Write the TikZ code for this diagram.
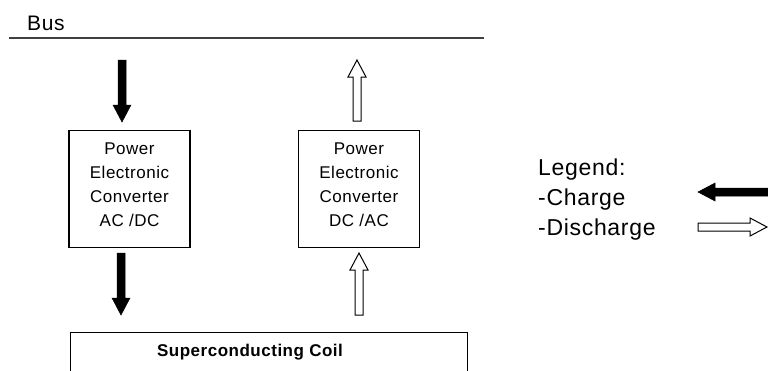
\documentclass[tikz,border=0pt]{standalone}
\usepackage{fontspec}
\setmainfont{Liberation Sans}
\newfontfamily\loosefont[LetterSpace=3]{Liberation Sans}
\begin{document}
\begin{tikzpicture}[x=1pt,y=-1pt,
  convbox/.style={draw, line width=1.3pt, minimum width=121pt, minimum height=117pt, inner sep=0pt},
  convtext/.style={align=center, font=\loosefont\fontsize{17}{24}\selectfont, inner sep=0pt},
  legtext/.style={anchor=base west, font=\loosefont\fontsize{23}{27}\selectfont, inner sep=0pt},
  solidarrow/.style={fill=black, draw=black, line width=0.5pt},
  hollowarrow/.style={fill=white, draw=black, line width=1pt},
  pics/barrow/.style={code={\path[pic actions] (0,-4) -- ({#1-17},-4) -- ({#1-17},-9) -- (#1,0) -- ({#1-17},9) -- ({#1-17},4) -- (0,4) -- cycle;}}
]
\useasboundingbox (0,0) rectangle (768,370);
\clip (0,0) rectangle (768,370);

% bus
\coordinate (busL) at (9,38);
\coordinate (busR) at (484,38);
\draw[line width=1.5pt, black!75] (busL) -- (busR);
\node[anchor=base west, inner sep=0pt, font=\loosefont\fontsize{21}{24}\selectfont] (bus) at (27,30) {Bus};

% converter boxes
\node[convbox] (conv1) at (129.5,189) {};
\node[convtext] (conv1t) at (129.5,185) {Power\\Electronic\\Converter\\AC /DC};
\node[convbox] (conv2) at (359,189) {};
\node[convtext] (conv2t) at (359,185) {Power\\Electronic\\Converter\\DC /AC};

% coil
\node[draw, line width=1.3pt, minimum width=397pt, minimum height=70pt, anchor=north west, inner sep=0pt] (coil) at (70,332) {};
\node[anchor=base, font=\loosefont\bfseries\fontsize{17}{20}\selectfont, inner sep=0pt] (coilt) at (250,356) {Superconducting Coil};

% arrows
\pic[solidarrow, rotate=-90] (a1) at (122,60) {barrow=62};
\pic[hollowarrow, rotate=90] (a2) at (357,121) {barrow=61};
\pic[solidarrow, rotate=-90] (a3) at (121,253) {barrow=62};
\pic[hollowarrow, rotate=90] (a4) at (359,315) {barrow=62};

% legend
\node[legtext] (leg) at (538,175) {Legend:};
\node[legtext] (legc) at (538,205) {-Charge};
\node[legtext] (legd) at (538,235) {-Discharge};
\pic[solidarrow, rotate=180] (lc) at (790,192) {barrow=92};
\pic[hollowarrow] (ld) at (698,227) {barrow=69};
\end{tikzpicture}
\end{document}
